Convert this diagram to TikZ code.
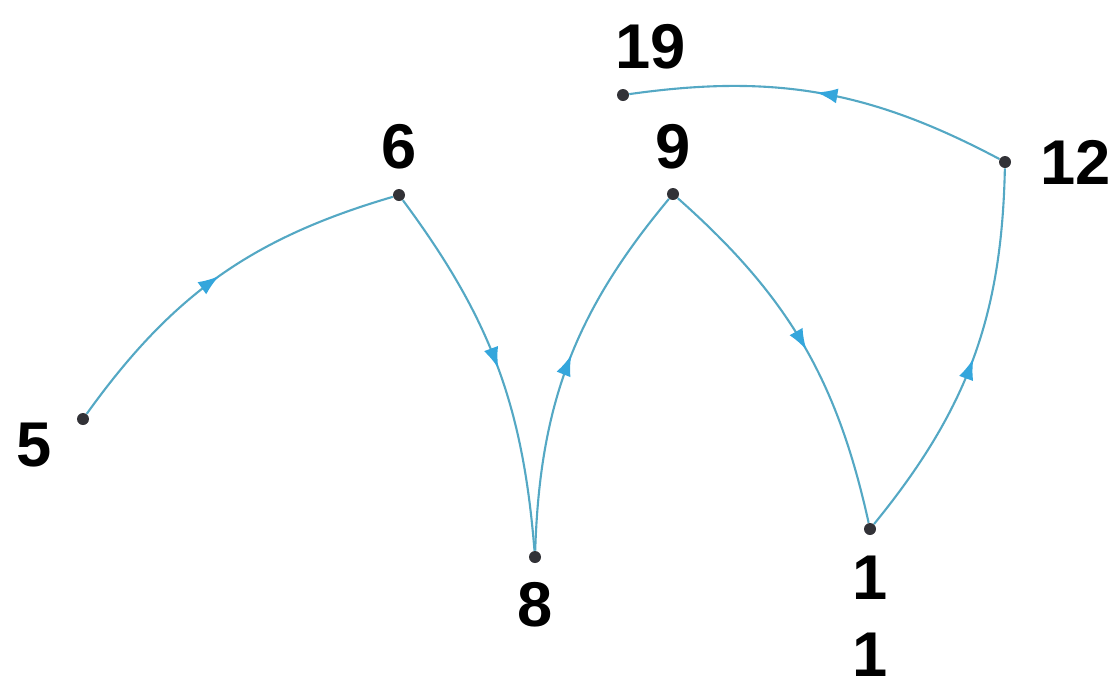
\documentclass[tikz,border=0pt]{standalone}
\usepackage{fontspec}
\setmainfont{Liberation Sans}
\usetikzlibrary{arrows.meta, positioning, decorations.markings}
\definecolor{edgeblue}{RGB}{84,168,196}
\definecolor{tipblue}{RGB}{52,166,220}
\definecolor{dotgray}{RGB}{50,50,55}

\begin{document}
\begin{tikzpicture}[
        x=0.02cm, y=-0.02cm,
        vertex/.style = {circle, fill=dotgray, inner sep=0pt, minimum size=0.24cm},
        numlabel/.style = {inner sep=0pt, align=center, font=\bfseries\fontsize{36}{44}\selectfont},
        edge/.style = {draw=edgeblue, line width=1.2pt, postaction={decorate},
            decoration={markings, mark=at position #1 with {\arrow[tipblue]{Latex[length=0.42cm, width=0.3cm]}}}},
        edge/.default = 0.5
    ]
        \useasboundingbox (0,0) rectangle (1116,691);

        % Vertices
        \node (v5)  [vertex] at (83,419) {};
        \node (v6)  [vertex] at (399,195) {};
        \node (v8)  [vertex] at (535,557) {};
        \node (v9)  [vertex] at (673,194) {};
        \node (v11) [vertex] at (870,529) {};
        \node (v12) [vertex] at (1005,162) {};
        \node (v19) [vertex] at (623,95) {};

        % Labels
        \node (l5)  [numlabel, left=0.5cm of v5, yshift=-0.52cm] {5};
        \node (l6)  [numlabel, above=0.38cm of v6] {6};
        \node (l8)  [numlabel, below=0.38cm of v8] {8};
        \node (l9)  [numlabel, above=0.36cm of v9] {9};
        \node (l11) [numlabel, below=0.4cm of v11] {1\\1};
        \node (l12) [numlabel, right=0.58cm of v12] {12};
        \node (l19) [numlabel, above=0.38cm of v19, xshift=0.56cm] {19};

        % Edges
        \draw [edge=0.5]  (v5) to[bend left=19] (v6);
        \draw [edge=0.51] (v6) to[bend left=16] (v8);
        \draw [edge=0.52] (v8) to[bend left=19] (v9);
        \draw [edge=0.52] (v9) to[bend left=18] (v11);
        \draw [edge=0.5]  (v11) to[bend right=19] (v12);
        \draw [edge=0.51] (v12) to[bend right=18] (v19);

    \end{tikzpicture}
\end{document}
